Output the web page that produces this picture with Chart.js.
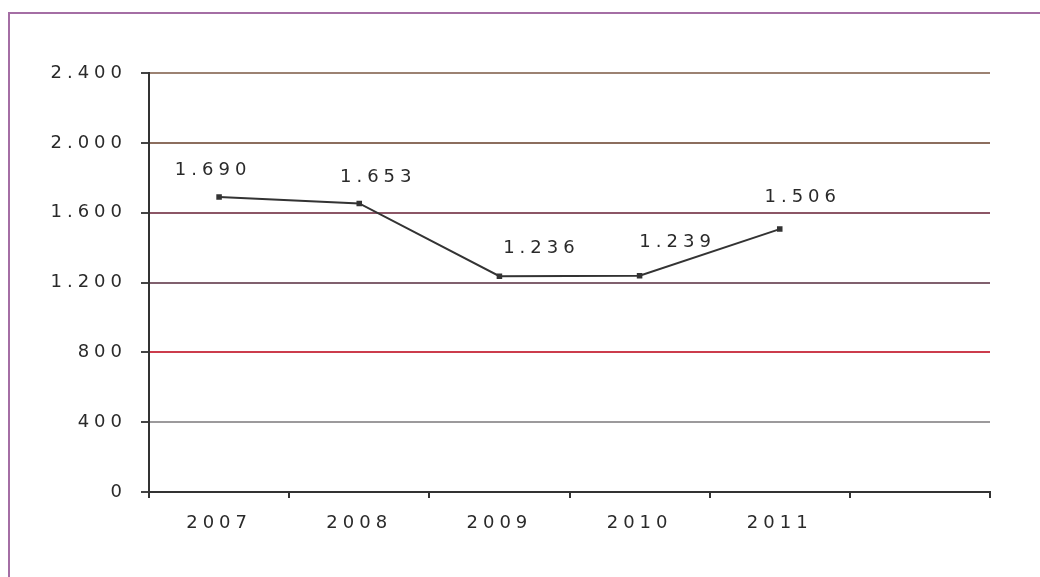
<!DOCTYPE html>
<html>
<head>
<meta charset="utf-8">
<script src="https://cdn.jsdelivr.net/npm/chart.js@4.4.1/dist/chart.umd.min.js"></script>
<style>
  html, body { margin: 0; padding: 0; background: #fff; overflow: hidden; }
  #frame { position: absolute; left: 8px; top: 12px; width: 1100px; height: 700px; border: 2px solid #a46ea4; }
  #myChart { position: absolute; left: 0; top: 0; }
</style>
</head>
<body>
<div id="frame"></div>
<canvas id="myChart" width="1040" height="577"></canvas>
<script>
// data
const years = ['2007', '2008', '2009', '2010', '2011', ''];
const values = [1690, 1653, 1236, 1239, 1506];
const yTicks = [0, 400, 800, 1200, 1600, 2000, 2400];

// colours of the horizontal lines, by tick value
const gridColors = {
    0: 'rgba(0,0,0,0)',
    400: '#9c9a9c',
    800: '#cc3c4c',
    1200: '#80606e',
    1600: '#8c5666',
    2000: '#8c6e5e',
    2400: '#9c8272'
};

// shifts of the value labels, same as in the picture
const labelDx = [-8, 17, 40, 36, 21];
const labelDy = [-27, -26, -28, -33, -32];

const FONT = '"DejaVu Sans", "Liberation Sans", sans-serif';

function fmt(v) {
    return String(v).replace(/\B(?=(\d{3})+(?!\d))/g, '.');
}

const stretchText = {
    id: 'stretchText',
    beforeDraw(chart) {
        chart.ctx.letterSpacing = '5px';
    }
};

const valueLabels = {
    id: 'valueLabels',
    afterDatasetsDraw(chart) {
        const ctx = chart.ctx;
        const meta = chart.getDatasetMeta(0);
        ctx.save();
        ctx.letterSpacing = '5px';
        ctx.font = '18px ' + FONT;
        ctx.fillStyle = '#2a2a2a';
        ctx.textAlign = 'center';
        ctx.textBaseline = 'middle';
        meta.data.forEach(function (pt, i) {
            ctx.fillText(fmt(values[i]), pt.x + labelDx[i] + 2, pt.y + labelDy[i]);
        });
        ctx.restore();
    }
};

var ctx = document.getElementById('myChart').getContext('2d');
var myChart = new Chart(ctx, {
    type: 'line',
    data: {
        labels: years,
        datasets: [{
            data: values,
            borderColor: '#333',
            borderWidth: 2,
            backgroundColor: '#333',
            pointStyle: 'rect',
            pointRadius: 2.5,
            tension: 0
        }]
    },
    options: {
        responsive: false,
        animation: false,
        events: [],
        layout: { padding: { left: 0, right: 50, top: 73, bottom: 0 } },
        plugins: { legend: { display: false }, tooltip: { enabled: false } },
        scales: {
            x: {
                offset: true,
                grid: { offset: true, drawOnChartArea: false, drawTicks: true, tickLength: 6, color: '#333', lineWidth: 2 },
                border: { color: '#333', width: 2 },
                ticks: {
                    color: '#2a2a2a',
                    padding: 15,
                    maxRotation: 0,
                    autoSkip: false,
                    font: { family: FONT, size: 18 }
                },
                afterFit: function (scale) { scale.height = 85; }
            },
            y: {
                min: 0,
                max: 2400,
                afterBuildTicks: function (scale) {
                    scale.ticks = yTicks.map(function (v) { return { value: v }; });
                },
                grid: {
                    color: function (c) { return gridColors[c.tick.value]; },
                    lineWidth: 2,
                    drawTicks: true,
                    tickColor: '#444',
                    tickLength: 8
                },
                border: { color: '#333', width: 2 },
                ticks: {
                    color: '#2a2a2a',
                    padding: 14,
                    font: { family: FONT, size: 18 },
                    callback: function (v) { return fmt(v); }
                },
                afterFit: function (scale) { scale.width = 149; }
            }
        }
    },
    plugins: [stretchText, valueLabels]
});
</script>
</body>
</html>
